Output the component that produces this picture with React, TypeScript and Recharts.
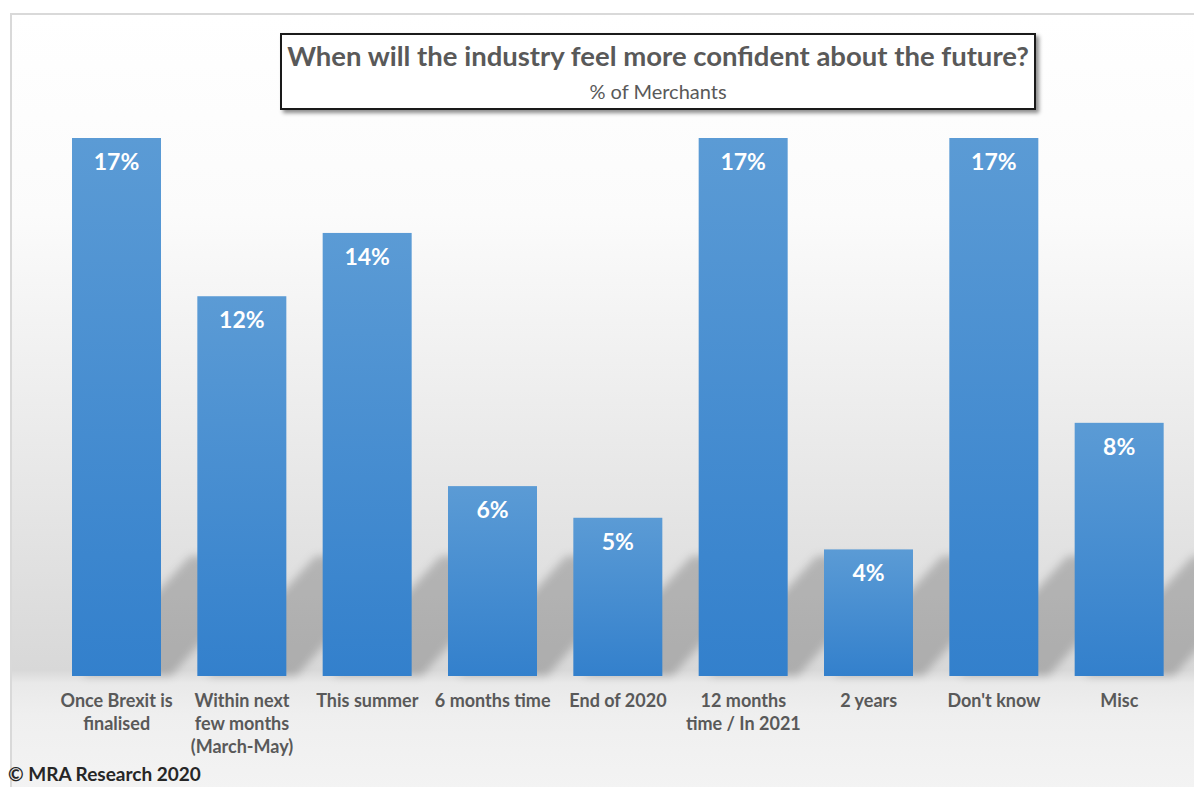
import React from 'react';
import { BarChart, Bar, XAxis, YAxis, LabelList } from 'recharts';

const categories = [
  'Once Brexit is\nfinalised',
  'Within next\nfew months\n(March-May)',
  'This summer',
  '6 months time',
  'End of 2020',
  '12 months\ntime / In 2021',
  '2 years',
  "Don't know",
  'Misc',
];
const merchants = [17, 12, 14, 6, 5, 17, 4, 17, 8];

const data = categories.map((name, i) => ({ name, value: merchants[i] }));

const FONT = 'Lato, "Open Sans", sans-serif';

// bar with a soft slanted shadow falling up and to the right
const ShadowBar = (props: any) => {
  const { x, y, width, height } = props;
  const base = y + height;
  const h = Math.min(height, 120);
  const shift = h * 0.9;
  const pts = [
    [x + 10, base],
    [x + width + 10, base],
    [x + width + 10 + shift, base - h],
    [x + 10 + shift, base - h],
  ]
    .map((p) => p.join(','))
    .join(' ');
  return (
    <g>
      <polygon points={pts} fill="rgba(0,0,0,0.2)" filter="url(#shadowBlur)" />
      <rect x={x} y={y} width={width} height={height} fill="url(#barFill)" />
    </g>
  );
};

const renderValue = (props: any) => {
  const { x, y, width, value } = props;
  return (
    <text
      x={x + width / 2}
      y={y + 32}
      textAnchor="middle"
      fill="#ffffff"
      fontFamily={FONT}
      fontWeight={700}
      fontSize={23}
    >
      {value}%
    </text>
  );
};

const CategoryTick = (props: any) => {
  const { x, y, payload } = props;
  const lines = String(payload.value).split('\n');
  return (
    <text x={x} y={y} textAnchor="middle" fill="#595959" fontFamily={FONT} fontWeight={700} fontSize={18}>
      {lines.map((line, i) => (
        <tspan key={i} x={x} dy={23}>
          {line}
        </tspan>
      ))}
    </text>
  );
};

const App = () => {
  return (
    <div style={{ position: 'absolute', left: 0, top: 0, width: 1194, height: 787, overflow: 'hidden', background: '#ffffff' }}>
      <div
        style={{
          position: 'absolute',
          left: 10,
          top: 13,
          width: 1200,
          height: 800,
          border: '2px solid #d9d9d9',
          background:
            'linear-gradient(to bottom, #ffffff 0px, #fbfbfb 200px, #e6e6e6 480px, #d8d8d8 655px, #e9e9e9 668px, #efefef 700px, #f3f3f3 774px)',
        }}
      />
      <div style={{ position: 'absolute', left: 0, top: 0 }}>
        <BarChart width={1194} height={787} data={data} margin={{ top: 138, right: 12, left: 54, bottom: 0 }}>
          <defs>
            <linearGradient id="barFill" x1="0" y1="0" x2="0" y2="1">
              <stop offset="0%" stopColor="#5b9bd5" />
              <stop offset="100%" stopColor="#3380cc" />
            </linearGradient>
            <filter id="shadowBlur" x="-20%" y="-20%" width="140%" height="140%">
              <feGaussianBlur stdDeviation="4" />
            </filter>
          </defs>
          <XAxis dataKey="name" height={111} axisLine={false} tickLine={false} interval={0} tick={<CategoryTick />} />
          <YAxis hide domain={[0, 17]} />
          <Bar dataKey="value" barSize={89} shape={<ShadowBar />} isAnimationActive={false}>
            <LabelList dataKey="value" content={renderValue} />
          </Bar>
        </BarChart>
      </div>
      <div
        style={{
          position: 'absolute',
          left: 280,
          top: 33,
          width: 752,
          height: 73,
          background: '#ffffff',
          border: '2px solid #1a1a1a',
          boxShadow: '3px 3px 4px rgba(0,0,0,0.45)',
          textAlign: 'center',
          fontFamily: FONT,
        }}
      >
        <div style={{ fontSize: 27.5, fontWeight: 700, color: '#595959', marginTop: 5, lineHeight: '32px' }}>
          When will the industry feel more confident about the future?
        </div>
        <div style={{ fontSize: 20, color: '#595959', marginTop: 7, lineHeight: '24px' }}>% of Merchants</div>
      </div>
      <div
        style={{
          position: 'absolute',
          left: 8,
          top: 762,
          fontFamily: FONT,
          fontWeight: 700,
          fontSize: 19,
          color: '#262626',
          lineHeight: '24px',
        }}
      >
        © MRA Research 2020
      </div>
    </div>
  );
};

export default App;
